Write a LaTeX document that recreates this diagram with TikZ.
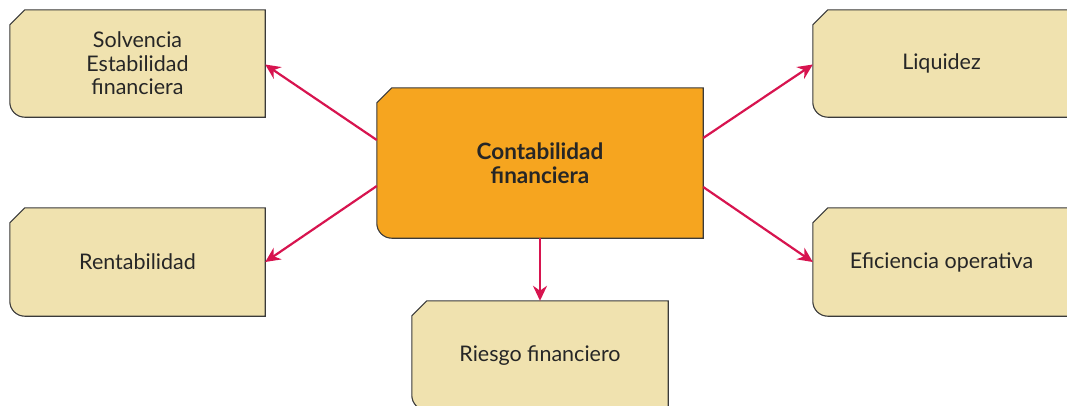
\documentclass[tikz,border=0pt]{standalone}
\usepackage{fontspec}
\setmainfont{Lato}
\usetikzlibrary{calc,arrows.meta}
\definecolor{boxfill}{HTML}{F0E2AF}
\definecolor{mainfill}{HTML}{F6A51F}
\definecolor{edge}{HTML}{3A3A3A}
\definecolor{arrowc}{HTML}{D7144F}
\pgfdeclarelayer{background}
\pgfsetlayers{background,main}
\newcommand\cutbox[2]{%
  \draw[line width=1.1pt, draw=edge, fill=#2]
    ($(#1.north west)+(0,-15)$) -- ($(#1.north west)+(15,0)$) -- (#1.north east)
    -- (#1.south east) -- ($(#1.south west)+(15,0)$)
    arc[start angle=270, end angle=180, radius=15] -- cycle;}
\tikzset{
  holder/.style={shape=rectangle, inner sep=0pt, align=center, text=black!85,
    font=\fontsize{21.5}{23.5}\selectfont},
  mainholder/.style={holder, font=\fontsize{22.5}{24}\selectfont\bfseries},
  conn/.style={draw=arrowc, line width=2.2pt, -{Stealth[length=15pt,width=14pt]}},
}
\begin{document}
\begin{tikzpicture}[x=1pt,y=1pt]
\useasboundingbox (0,0) rectangle (1067,-405);
\clip (0,0) rectangle (1067,-405);
\node[holder, minimum width=255pt, minimum height=107pt] (solv) at (137.5,-63.5) {Solvencia\\Estabilidad\\financiera};
\node[holder, minimum width=255pt, minimum height=108pt] (rent) at (137.5,-262) {Rentabilidad};
\node[holder, minimum width=257pt, minimum height=107pt] (liq) at (941.5,-63.5) {Liquidez};
\node[holder, minimum width=257pt, minimum height=108pt] (efi) at (941.5,-262) {Eficiencia operativa};
\node[holder, minimum width=256pt, minimum height=109pt] (ries) at (540,-355.5) {Riesgo financiero};
\node[mainholder, minimum width=326pt, minimum height=150pt] (cont) at (540,-163) {Contabilidad\\financiera};
\begin{pgfonlayer}{background}
\cutbox{solv}{boxfill}
\cutbox{rent}{boxfill}
\cutbox{liq}{boxfill}
\cutbox{efi}{boxfill}
\cutbox{ries}{boxfill}
\cutbox{cont}{mainfill}
\end{pgfonlayer}
\draw[conn] ([yshift=23pt]cont.west) -- ([yshift=-1pt]solv.east);
\draw[conn] ([yshift=-23pt]cont.west) -- (rent.east);
\draw[conn] ([yshift=25pt]cont.east) -- ([yshift=-1pt]liq.west);
\draw[conn] ([yshift=-24pt]cont.east) -- (efi.west);
\draw[conn] (cont.south) -- (ries.north);
\end{tikzpicture}
\end{document}
